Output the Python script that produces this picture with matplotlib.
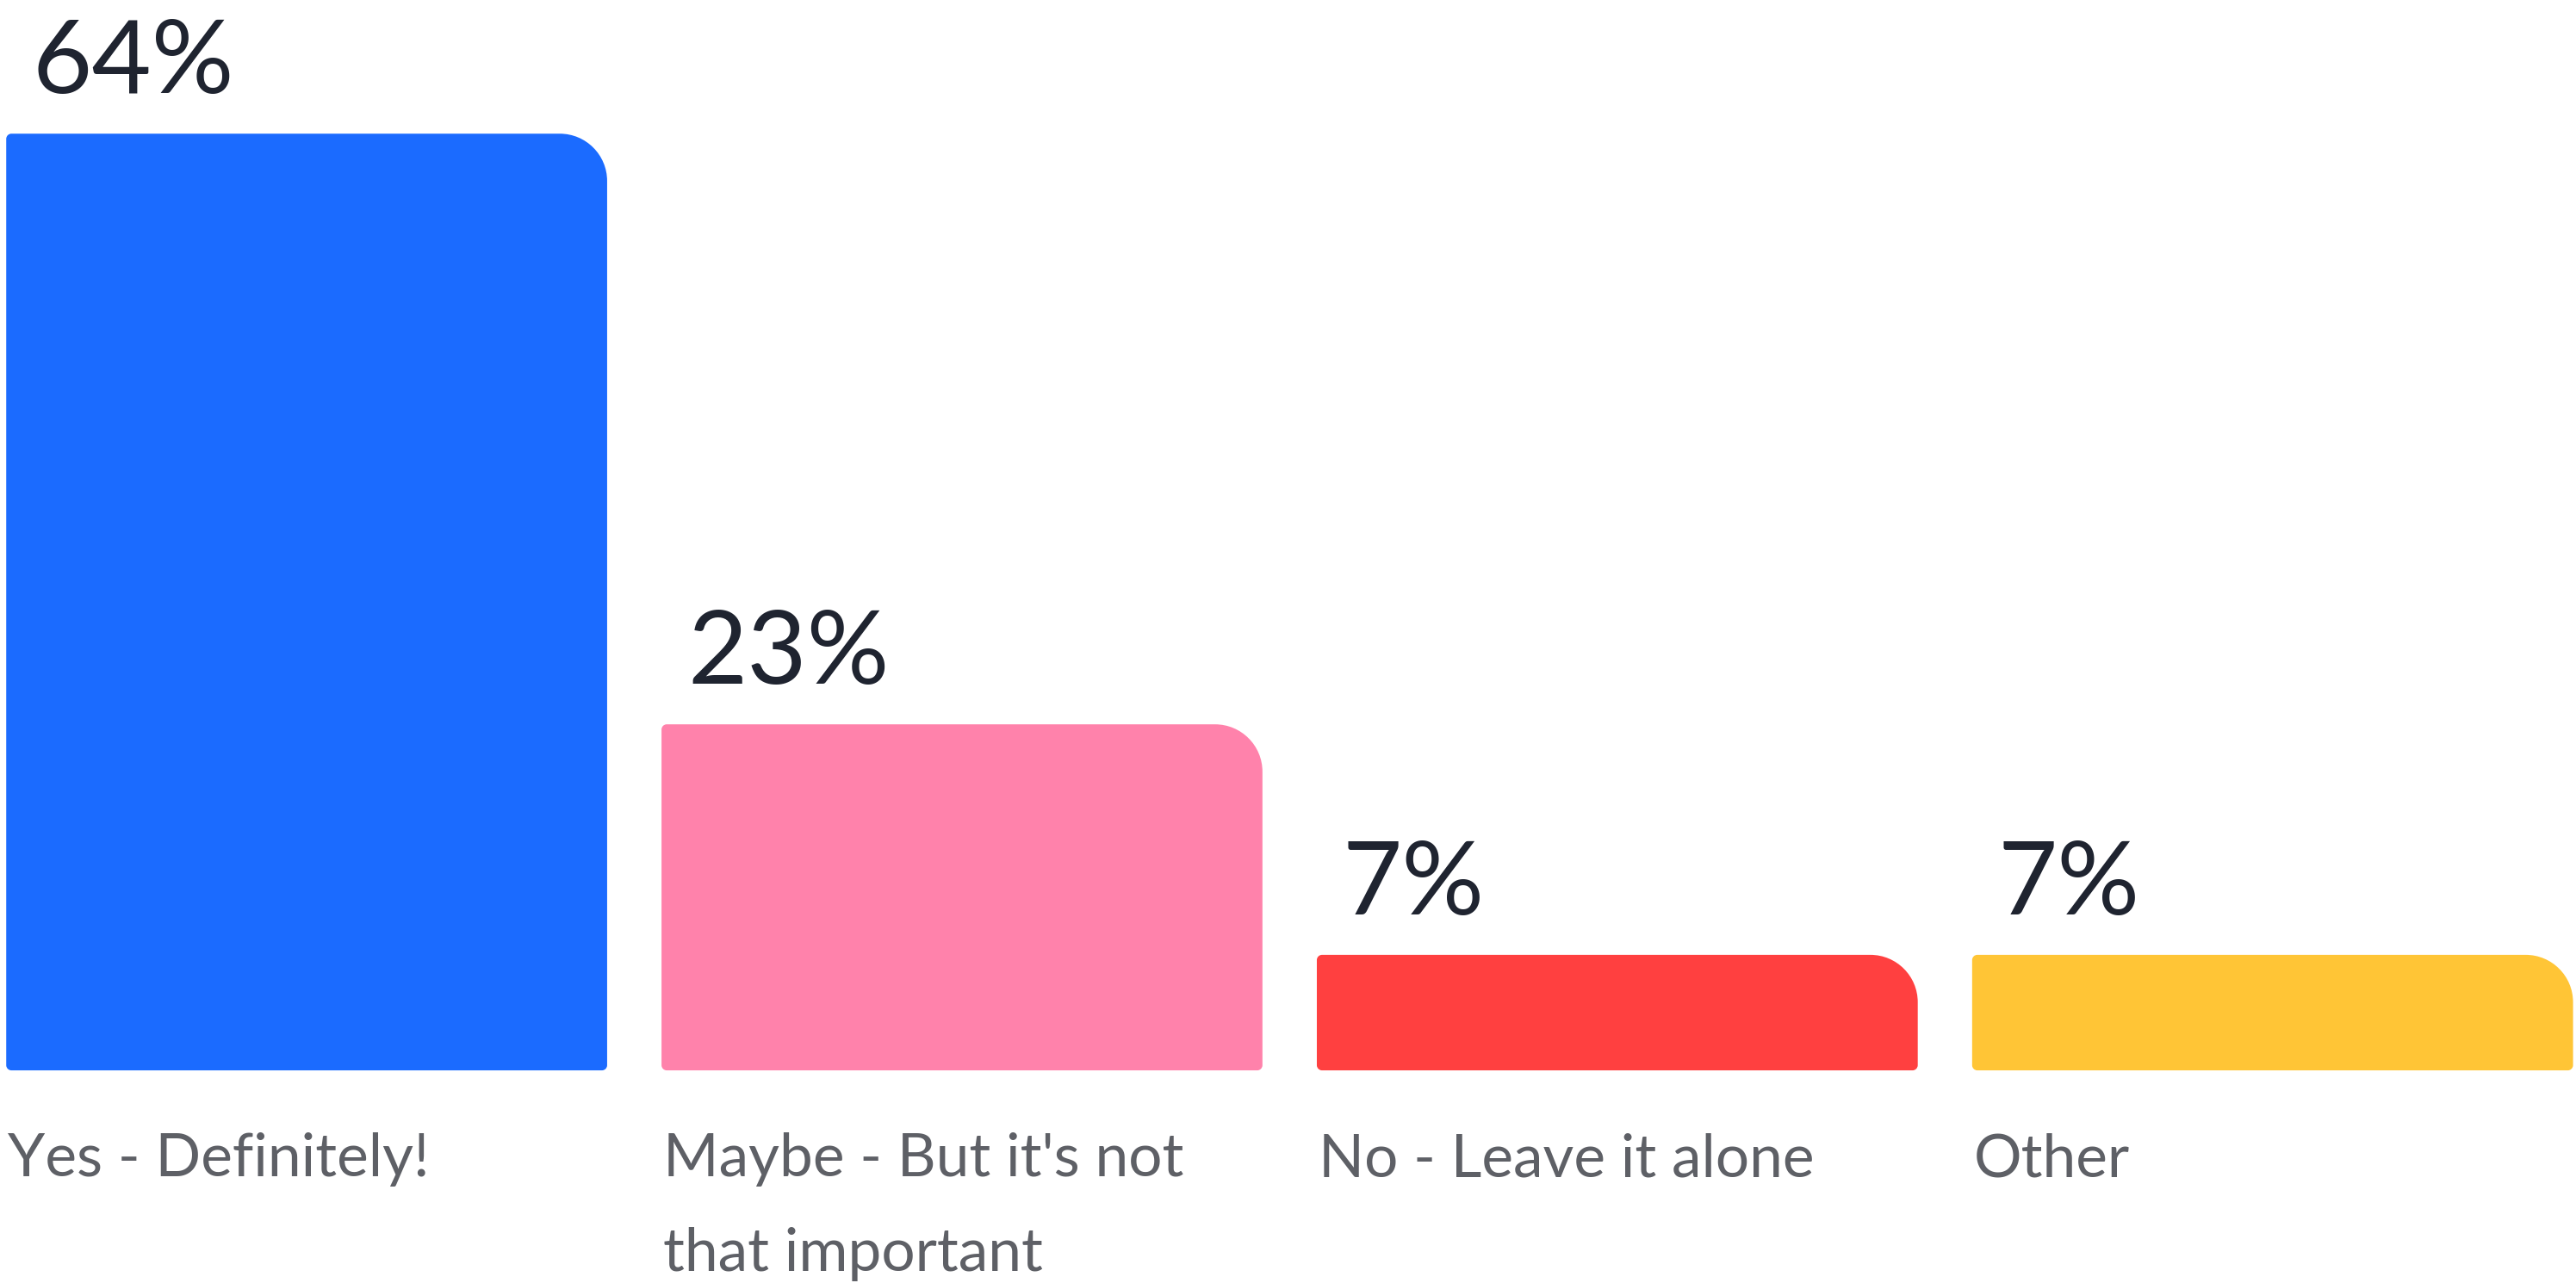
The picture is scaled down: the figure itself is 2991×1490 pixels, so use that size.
import matplotlib
matplotlib.use("Agg")
import matplotlib.pyplot as plt
from matplotlib.path import Path
from matplotlib.patches import PathPatch

categories = ["Yes - Definitely!", "Maybe - But it's not\nthat important",
              "No - Leave it alone", "Other"]
values = [64, 23, 7, 7]
value_labels = ["64%", "23%", "7%", "7%"]
colors = ["#1b6bff", "#ff82ab", "#ff4040", "#ffc536"]

W, H = 2991, 1490
fig = plt.figure(figsize=(W / 100, H / 100), dpi=100)
ax = fig.add_axes([0, 0, 1, 1])
ax.set_xlim(-0.468, 3.463)
ax.set_ylim(-15.78, 73.28)
ax.axis("off")

width = 0.917
base = -1.02

# data units per pixel, so the corner radius can be given in pixels
xpp = (3.463 + 0.468) / W
ypp = (73.28 + 15.78) / H


def rounded_bar(x0, x1, y0, y1, r_big, r_small):
    k = 0.5523
    rbx, rby = r_big * xpp, r_big * ypp
    rsx, rsy = r_small * xpp, r_small * ypp
    verts = [
        (x0 + rsx, y0),
        (x1 - rsx, y0),
        (x1 - rsx + k * rsx, y0), (x1, y0 + rsy - k * rsy), (x1, y0 + rsy),
        (x1, y1 - rby),
        (x1, y1 - rby + k * rby), (x1 - rbx + k * rbx, y1), (x1 - rbx, y1),
        (x0 + rsx, y1),
        (x0 + rsx - k * rsx, y1), (x0, y1 - rsy + k * rsy), (x0, y1 - rsy),
        (x0, y0 + rsy),
        (x0, y0 + rsy - k * rsy), (x0 + rsx - k * rsx, y0), (x0 + rsx, y0),
        (x0 + rsx, y0),
    ]
    codes = [Path.MOVETO, Path.LINETO,
             Path.CURVE4, Path.CURVE4, Path.CURVE4,
             Path.LINETO,
             Path.CURVE4, Path.CURVE4, Path.CURVE4,
             Path.LINETO,
             Path.CURVE4, Path.CURVE4, Path.CURVE4,
             Path.LINETO,
             Path.CURVE4, Path.CURVE4, Path.CURVE4,
             Path.CLOSEPOLY]
    return Path(verts, codes)


for i, (cat, v, lab, c) in enumerate(zip(categories, values, value_labels, colors)):
    x0 = i - width / 2
    x1 = i + width / 2
    p = rounded_bar(x0, x1, base, v, 55, 6)
    ax.add_patch(PathPatch(p, facecolor=c, edgecolor="none"))
    ax.annotate(lab, (x0, v), xytext=(30, 47), textcoords="offset pixels",
                ha="left", va="baseline", fontsize=86, color="#1f2430",
                family="Lato")
    ax.annotate(cat, (x0, base), xytext=(2, -72), textcoords="offset pixels",
                ha="left", va="top", fontsize=50, color="#5e6066",
                family="Lato", linespacing=1.92)

fig.savefig("out.png", dpi=100, facecolor="white")
